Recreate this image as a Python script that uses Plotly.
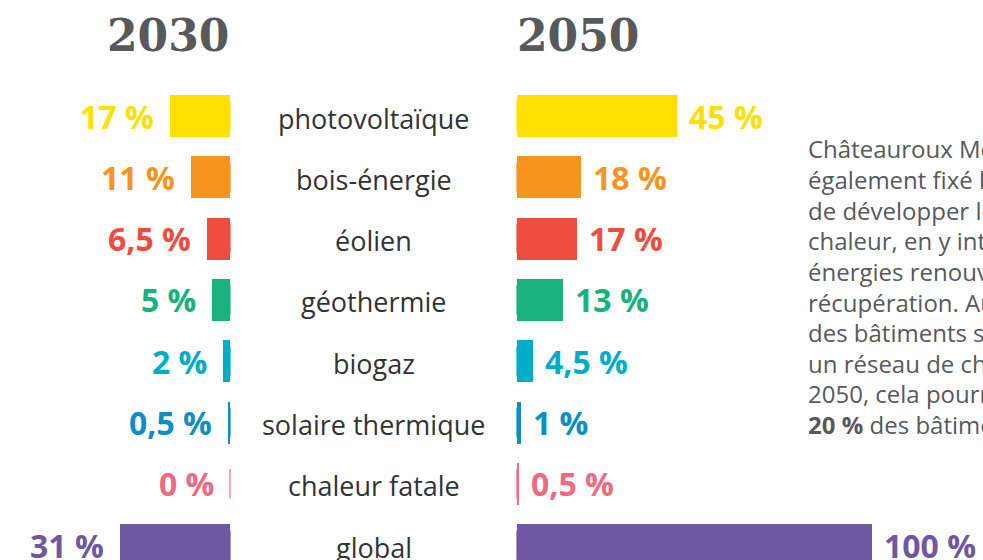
import plotly.graph_objects as go

# ---- data ----
categories = ["photovoltaïque", "bois-énergie", "éolien", "géothermie", "biogaz",
              "solaire thermique", "chaleur fatale", "global"]
values_2030 = [17, 11, 6.5, 5, 2, 0.5, 0, 31]
values_2050 = [45, 18, 17, 13, 4.5, 1, 0.5, 100]
colors = ["#FFE000", "#F7941D", "#EF4C3F", "#19B27E", "#00ADC9", "#0B8FC4", "#F2697F", "#6E58A1"]
year_labels = ["2030", "2050"]
paragraph = ["Châteauroux Métropole s'est",
             "également fixé l'objectif",
             "de développer le réseau de",
             "chaleur, en y intégrant des",
             "énergies renouvelables et de",
             "récupération. Aujourd'hui,",
             "des bâtiments sont raccordés à",
             "un réseau de chaleur. En",
             "2050, cela pourrait concerner",
             "<b>20 %</b> des bâtiments."]

W, H = 983, 560
LEFT_END, RIGHT_START = 230, 517
PX_PER_PCT = 3.55
ROW0, ROW_STEP, BAR_PX = 116, 61.3, 42

idx = list(range(len(categories)))

def fmt(v):
    return f"{v:g}".replace(".", ",") + " %"

fig = go.Figure()

# baseline ticks (visible for zero-width bars)
for ax in ["x", "x2"]:
    fig.add_trace(go.Scatter(x=[0] * len(idx), y=idx, mode="markers", xaxis=ax, yaxis="y",
                             marker=dict(symbol="line-ns", size=BAR_PX / 2,
                                         line=dict(width=1.2, color=colors)),
                             cliponaxis=False, hoverinfo="skip"))

fig.add_trace(go.Bar(x=values_2030, y=idx, orientation="h", xaxis="x", yaxis="y",
                     marker=dict(color=colors, line=dict(width=0)),
                     width=BAR_PX / ROW_STEP, hoverinfo="skip"))
fig.add_trace(go.Bar(x=values_2050, y=idx, orientation="h", xaxis="x2", yaxis="y",
                     marker=dict(color=colors, line=dict(width=0)),
                     width=BAR_PX / ROW_STEP, hoverinfo="skip"))

annotations = []
label_font = "Open Sans"
for i, cat in enumerate(categories):
    annotations.append(dict(x=(LEFT_END + RIGHT_START) / 2 / W, xref="paper", y=i, yref="y",
                            yshift=-2, text=cat, showarrow=False, xanchor="center", yanchor="middle",
                            font=dict(family=label_font, size=27, color="#333333")))
    annotations.append(dict(x=values_2030[i], xref="x", y=i, yref="y", text=fmt(values_2030[i]),
                            showarrow=False, xanchor="right", yanchor="middle", xshift=-14,
                            font=dict(family=label_font, size=32, color=colors[i], weight="bold")))
    annotations.append(dict(x=values_2050[i], xref="x2", y=i, yref="y", text=fmt(values_2050[i]),
                            showarrow=False, xanchor="left", yanchor="middle", xshift=10,
                            font=dict(family=label_font, size=32, color=colors[i], weight="bold")))

annotations.append(dict(x=(LEFT_END + 1) / W, xref="paper", y=1 - 35 / H, yref="paper", text=year_labels[0],
                        showarrow=False, xanchor="right", yanchor="middle",
                        font=dict(family="DejaVu Serif", size=44, color="#58595B", weight="bold")))
annotations.append(dict(x=(RIGHT_START - 2) / W, xref="paper", y=1 - 35 / H, yref="paper", text=year_labels[1],
                        showarrow=False, xanchor="left", yanchor="middle",
                        font=dict(family="DejaVu Serif", size=44, color="#58595B", weight="bold")))

for k, line in enumerate(paragraph):
    annotations.append(dict(x=806 / W, xref="paper", y=1 - (149 + 30.6 * k) / H, yref="paper",
                            text=line, showarrow=False, xanchor="left", yanchor="middle",
                            font=dict(family=label_font, size=24, color="#58595B")))

fig.update_layout(
    width=W, height=H, margin=dict(l=0, r=0, t=0, b=0),
    paper_bgcolor="white", plot_bgcolor="white", showlegend=False, bargap=0,
    xaxis=dict(domain=[0, LEFT_END / W], range=[LEFT_END / PX_PER_PCT, 0], visible=False,
               anchor="y", fixedrange=True),
    xaxis2=dict(domain=[RIGHT_START / W, 1], range=[0, (W - RIGHT_START) / PX_PER_PCT], visible=False,
                anchor="y", fixedrange=True),
    yaxis=dict(domain=[0, 1], range=[(H - ROW0) / ROW_STEP, -ROW0 / ROW_STEP], visible=False,
               fixedrange=True),
    annotations=annotations,
)

fig.write_html("out.html", config={"displayModeBar": False},
               post_script="document.body.style.margin='0';")
